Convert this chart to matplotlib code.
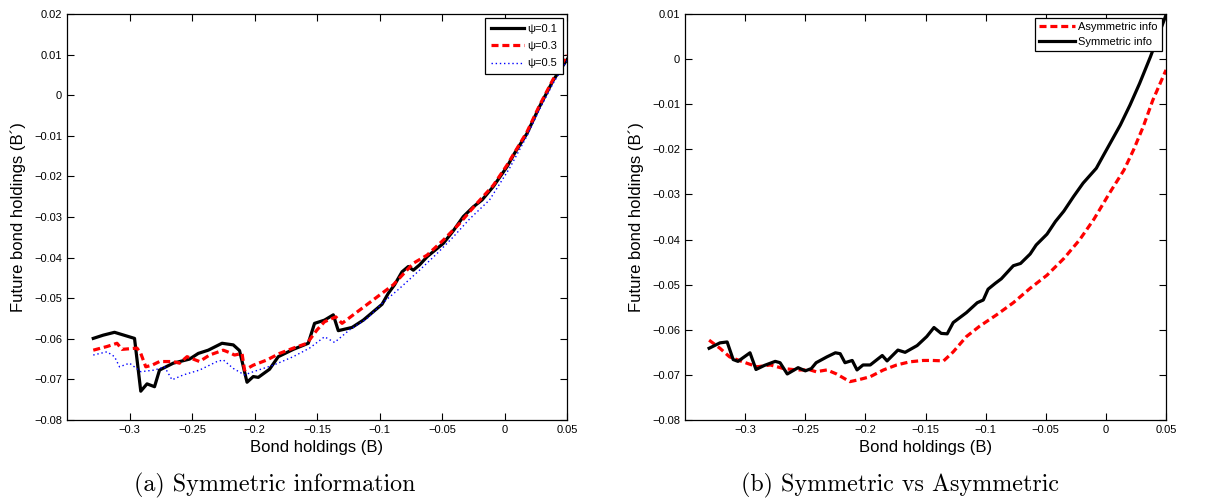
import matplotlib
matplotlib.use('Agg')
import matplotlib.pyplot as plt
from matplotlib.ticker import FuncFormatter

plt.rcParams['font.family'] = ['Liberation Sans', 'DejaVu Sans']

# panel (a): symmetric information, three psi values
psi1_x = [-0.329, -0.321, -0.312, -0.296, -0.291, -0.286, -0.280, -0.276, -0.265, -0.252,
          -0.245, -0.237, -0.226, -0.217, -0.212, -0.206, -0.201, -0.197, -0.188, -0.181,
          -0.169, -0.157, -0.152, -0.144, -0.137, -0.133, -0.122, -0.113, -0.098, -0.093,
          -0.088, -0.082, -0.077, -0.073, -0.068, -0.062, -0.049, -0.041, -0.033, -0.025,
          -0.018, -0.009, 0.002, 0.008, 0.018, 0.028, 0.039, 0.050]
psi1_y = [-0.0599, -0.0591, -0.0584, -0.0599, -0.0729, -0.0711, -0.0718, -0.0677, -0.0660, -0.0650,
          -0.0636, -0.0628, -0.0611, -0.0615, -0.0629, -0.0707, -0.0693, -0.0695, -0.0675, -0.0644,
          -0.0626, -0.0611, -0.0562, -0.0554, -0.0541, -0.0580, -0.0572, -0.0554, -0.0515, -0.0488,
          -0.0467, -0.0435, -0.0422, -0.0431, -0.0418, -0.0398, -0.0365, -0.0334, -0.0299, -0.0275,
          -0.0258, -0.0225, -0.0176, -0.0143, -0.0094, -0.0028, 0.0037, 0.0088]

psi3_x = [-0.329, -0.318, -0.310, -0.306, -0.294, -0.291, -0.287, -0.282, -0.276, -0.265,
          -0.260, -0.254, -0.244, -0.236, -0.225, -0.220, -0.216, -0.210, -0.208, -0.201,
          -0.190, -0.180, -0.169, -0.158, -0.150, -0.144, -0.135, -0.130, -0.121, -0.105,
          -0.089, -0.073, -0.062, -0.049, -0.036, -0.022, -0.009, 0.002, 0.018, 0.028,
          0.039, 0.050]
psi3_y = [-0.0628, -0.0619, -0.0611, -0.0626, -0.0623, -0.0636, -0.0669, -0.0665, -0.0656, -0.0656,
          -0.0660, -0.0644, -0.0656, -0.0640, -0.0628, -0.0634, -0.0640, -0.0636, -0.0677, -0.0665,
          -0.0652, -0.0636, -0.0623, -0.0611, -0.0578, -0.0558, -0.0546, -0.0562, -0.0541, -0.0504,
          -0.0467, -0.0414, -0.0394, -0.0357, -0.0316, -0.0266, -0.0222, -0.0172, -0.0090, -0.0025,
          0.0040, 0.0099]

psi5_x = [-0.329, -0.318, -0.312, -0.308, -0.300, -0.291, -0.280, -0.272, -0.266, -0.257,
          -0.244, -0.230, -0.225, -0.217, -0.208, -0.201, -0.185, -0.169, -0.156, -0.144,
          -0.136, -0.124, -0.110, -0.098, -0.084, -0.068, -0.054, -0.041, -0.028, -0.012,
          0.004, 0.018, 0.028, 0.039, 0.050]
psi5_y = [-0.0640, -0.0632, -0.0644, -0.0669, -0.0660, -0.0681, -0.0677, -0.0669, -0.0701, -0.0689,
          -0.0677, -0.0656, -0.0652, -0.0673, -0.0689, -0.0681, -0.0665, -0.0644, -0.0623, -0.0595,
          -0.0609, -0.0578, -0.0550, -0.0513, -0.0476, -0.0431, -0.0390, -0.0349, -0.0305, -0.0258,
          -0.0180, -0.0100, -0.0035, 0.0030, 0.0085]

# panel (b): symmetric vs asymmetric
sym_x = [-0.330, -0.321, -0.315, -0.310, -0.306, -0.296, -0.291, -0.284, -0.275, -0.271,
         -0.265, -0.256, -0.250, -0.245, -0.241, -0.232, -0.225, -0.221, -0.217, -0.211,
         -0.207, -0.202, -0.196, -0.186, -0.182, -0.173, -0.167, -0.157, -0.149, -0.143,
         -0.137, -0.132, -0.127, -0.116, -0.107, -0.102, -0.098, -0.092, -0.087, -0.077,
         -0.071, -0.063, -0.058, -0.049, -0.042, -0.035, -0.027, -0.019, -0.008, -0.002,
         0.012, 0.020, 0.028, 0.037, 0.050]
sym_y = [-0.0641, -0.0629, -0.0627, -0.0666, -0.0670, -0.0651, -0.0688, -0.0679, -0.0670, -0.0673,
         -0.0698, -0.0684, -0.0691, -0.0686, -0.0673, -0.0660, -0.0651, -0.0653, -0.0673, -0.0668,
         -0.0689, -0.0678, -0.0678, -0.0657, -0.0669, -0.0645, -0.0650, -0.0635, -0.0615, -0.0595,
         -0.0608, -0.0609, -0.0584, -0.0562, -0.0540, -0.0534, -0.0510, -0.0497, -0.0487, -0.0458,
         -0.0453, -0.0432, -0.0412, -0.0388, -0.0360, -0.0337, -0.0305, -0.0275, -0.0242, -0.0213,
         -0.0146, -0.0102, -0.0054, 0.0005, 0.0098]

asym_x = [-0.330, -0.321, -0.313, -0.302, -0.290, -0.279, -0.268, -0.257, -0.246, -0.241,
          -0.232, -0.224, -0.213, -0.206, -0.196, -0.185, -0.174, -0.163, -0.152, -0.144,
          -0.135, -0.127, -0.116, -0.105, -0.091, -0.077, -0.063, -0.049, -0.035, -0.022,
          -0.010, 0.003, 0.015, 0.023, 0.031, 0.039, 0.050]
asym_y = [-0.0623, -0.0641, -0.0660, -0.0671, -0.0682, -0.0678, -0.0686, -0.0689, -0.0689, -0.0693,
          -0.0689, -0.0698, -0.0715, -0.0711, -0.0704, -0.0689, -0.0678, -0.0671, -0.0668, -0.0668,
          -0.0669, -0.0649, -0.0615, -0.0592, -0.0567, -0.0540, -0.0508, -0.0479, -0.0442, -0.0401,
          -0.0355, -0.0297, -0.0246, -0.0201, -0.0150, -0.0091, -0.0024]

x_ticks = [-0.3, -0.25, -0.2, -0.15, -0.1, -0.05, 0, 0.05]
y_ticks_a = [-0.08, -0.07, -0.06, -0.05, -0.04, -0.03, -0.02, -0.01, 0, 0.01, 0.02]
y_ticks_b = [-0.08, -0.07, -0.06, -0.05, -0.04, -0.03, -0.02, -0.01, 0, 0.01]

# matlab style labels with a real minus sign
fmt = FuncFormatter(lambda v, p: ('%g' % round(v, 4)).replace('-', '\u2212'))


def style_axes(ax, yticks, ylim):
    ax.set_xlim(-0.35, 0.05)
    ax.set_ylim(*ylim)
    ax.set_xticks(x_ticks)
    ax.set_yticks(yticks)
    ax.xaxis.set_major_formatter(fmt)
    ax.yaxis.set_major_formatter(fmt)
    ax.tick_params(direction='in', top=True, right=True, length=5, width=0.8, labelsize=8)
    for s in ax.spines.values():
        s.set_linewidth(0.9)
    ax.set_xlabel('Bond holdings (B)', fontsize=12, labelpad=4)
    ax.set_ylabel('Future bond holdings (B\u00b4)', fontsize=12, labelpad=6)


fig = plt.figure(figsize=(12.14, 5.03), dpi=100)
ax1 = fig.add_axes([0.0552, 0.165, 0.4119, 0.8072])
ax2 = fig.add_axes([0.5643, 0.165, 0.3962, 0.8072])

ax1.plot(psi1_x, psi1_y, color='black', lw=2.3, label='\u03c8=0.1')
ax1.plot(psi3_x, psi3_y, color='red', lw=2.3, ls=(0, (2.2, 1.2)), label='\u03c8=0.3')
ax1.plot(psi5_x, psi5_y, color='blue', lw=1.0, ls=(0, (1, 2)), label='\u03c8=0.5')
style_axes(ax1, y_ticks_a, (-0.08, 0.02))
leg = ax1.legend(loc='upper right', fontsize=8, fancybox=False, edgecolor='black',
                 framealpha=1, handlelength=3.0, borderpad=0.5, labelspacing=0.65,
                 handletextpad=0.3, borderaxespad=0.4)
leg.get_frame().set_linewidth(0.9)

ax2.plot(asym_x, asym_y, color='red', lw=2.3, ls=(0, (2.2, 1.2)), label='Asymmetric info')
ax2.plot(sym_x, sym_y, color='black', lw=2.3, label='Symmetric info')
style_axes(ax2, y_ticks_b, (-0.08, 0.01))
leg = ax2.legend(loc='upper right', fontsize=8, fancybox=False, edgecolor='black',
                 framealpha=1, handlelength=3.2, borderpad=0.35, labelspacing=0.45,
                 handletextpad=0.3, borderaxespad=0.4)
leg.get_frame().set_linewidth(0.9)

# sub-captions
fig.text(0.226, 0.022, '(a) Symmetric information', family='cmr10', fontsize=17.3, ha='center')
fig.text(0.741, 0.022, '(b) Symmetric vs Asymmetric', family='cmr10', fontsize=17.3, ha='center')

fig.savefig('out.png', dpi=100)
